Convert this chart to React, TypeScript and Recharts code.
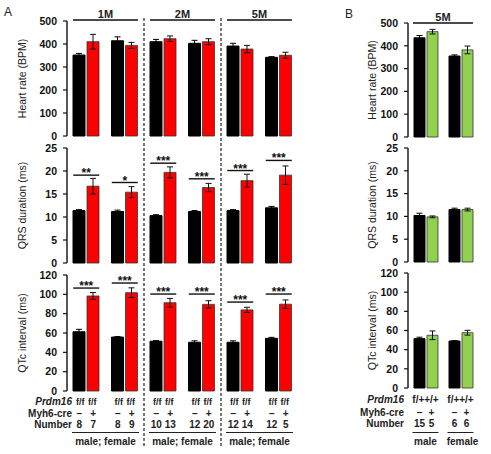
import React from "react";
import { ComposedChart, Bar, Scatter, XAxis, YAxis, ErrorBar } from "recharts";

const FONT = '"Liberation Sans", Arial, sans-serif';

// Panel A: 1M / 2M / 5M, male + female per age
const ageGroupsA = ["1M", "2M", "5M"];
const categoriesA = ["1M male", "1M female", "2M male", "2M female", "5M male", "5M female"];

const hrCtrlA = [352, 414, 410, 403, 391, 342];
const hrCtrlErrA = [7, 17, 10, 13, 12, 3];
const hrCreA = [410, 394, 423, 410, 378, 351];
const hrCreErrA = [32, 13, 12, 13, 16, 13];

const qrsCtrlA = [11.4, 11.2, 10.3, 11.2, 11.4, 12.0];
const qrsCtrlErrA = [0.2, 0.3, 0.2, 0.2, 0.2, 0.3];
const qrsCreA = [16.7, 15.4, 19.7, 16.4, 17.9, 19.1];
const qrsCreErrA = [1.7, 1.2, 1.2, 0.9, 1.4, 2.0];
const qrsSigLevelA = [19.1, 17.5, 21.7, 18.3, 20.1, 22.3];
const qrsStarsA = ["**", "*", "***", "***", "***", "***"];

const qtcCtrlA = [61.3, 55.8, 51.5, 50.4, 50.4, 54.5];
const qtcCtrlErrA = [2.5, 0.6, 0.6, 1.5, 1.5, 1.0];
const qtcCreA = [98.3, 101.7, 91.3, 89.6, 83.9, 89.8];
const qtcCreErrA = [3.5, 5, 4.5, 3.8, 2.7, 4.4];
const qtcSigLevelA = [106.5, 111.7, 100.3, 100.3, 92, 100.3];
const qtcStarsA = ["***", "***", "***", "***", "***", "***"];

const genotypeA = ["f/f", "f/f"];
const numbersA = [[8, 7], [8, 9], [10, 13], [12, 20], [12, 14], [12, 5]];

// Panel B: 5M, f/+ +/+
const categoriesB = ["male", "female"];
const hrCtrlB = [435, 355];
const hrCtrlErrB = [10, 5];
const hrCreB = [462, 382];
const hrCreErrB = [10, 17];
const qrsCtrlB = [10.2, 11.5];
const qrsCtrlErrB = [0.5, 0.3];
const qrsCreB = [9.9, 11.5];
const qrsCreErrB = [0.2, 0.3];
const qtcCtrlB = [51.5, 49];
const qtcCtrlErrB = [1.5, 0.5];
const qtcCreB = [55, 57.7];
const qtcCreErrB = [4.5, 2.5];
const genotypeB = "f/++/+";
const numbersB = [[15, 5], [6, 6]];

const hrTicks = [0, 100, 200, 300, 400, 500];
const qrsTicks = [0, 5, 10, 15, 20, 25];
const qtcTicks = [0, 20, 40, 60, 80, 100, 120];

// plot frame
const A_LEFT = 67;
const A_RIGHT = 298;
const B_LEFT = 408;
const B_RIGHT = 478;
const CAT_A = (A_RIGHT - A_LEFT) / categoriesA.length;
const CAT_B = (B_RIGHT - B_LEFT) / categoriesB.length;

interface PanelProps {
  categories: string[];
  ctrl: number[];
  ctrlErr: number[];
  mut: number[];
  mutErr: number[];
  mutColor: string;
  sigLevel?: number[];
  stars?: string[];
  top: number;
  bottom: number;
  left: number;
  right: number;
  labelX: number;
  ticks: number[];
  label: string;
  barSize: number;
  sigHalf?: number;
}

const Panel = (p: PanelProps) => {
  const pad = 6;
  const axisWidth = p.left - (p.labelX - 5);
  const data = p.categories.map((c, i) => ({
    cat: c,
    ctrl: p.ctrl[i],
    ctrlErr: p.ctrlErr[i],
    mut: p.mut[i],
    mutErr: p.mutErr[i],
    sig: p.sigLevel ? p.sigLevel[i] : undefined,
    stars: p.stars ? p.stars[i] : "",
  }));
  const half = p.sigHalf ?? 13;

  return (
    <div style={{ position: "absolute", left: 0, top: p.top - pad }}>
      <ComposedChart
        width={p.right + pad}
        height={p.bottom - p.top + 2 * pad}
        data={data}
        barSize={p.barSize}
        barGap={2}
        margin={{ top: pad, right: pad, bottom: pad, left: p.left - axisWidth }}
      >
        <XAxis
          dataKey="cat"
          height={0}
          tick={false}
          tickLine={false}
          axisLine={{ stroke: "#111", strokeWidth: 1.4 }}
        />
        <YAxis
          width={axisWidth}
          domain={[p.ticks[0], p.ticks[p.ticks.length - 1]]}
          ticks={p.ticks}
          interval={0}
          tickSize={4}
          tickMargin={6}
          axisLine={{ stroke: "#111", strokeWidth: 1.4 }}
          tickLine={{ stroke: "#111", strokeWidth: 1.2 }}
          tick={{ fill: "#111", fontSize: 10.5, fontWeight: "bold", fontFamily: FONT }}
          label={{
            value: p.label,
            angle: -90,
            position: "insideLeft",
            style: { textAnchor: "middle", fontSize: 10.5, fill: "#222", fontFamily: FONT },
          }}
        />
        <Bar dataKey="ctrl" fill="#000" stroke="#000" isAnimationActive={false}>
          <ErrorBar dataKey="ctrlErr" width={3} stroke="#000" strokeWidth={1} />
        </Bar>
        <Bar dataKey="mut" fill={p.mutColor} stroke="#333" strokeWidth={0.8} isAnimationActive={false}>
          <ErrorBar dataKey="mutErr" width={3} stroke="#111" strokeWidth={1} />
        </Bar>
        {p.sigLevel && (
          <Scatter
            dataKey="sig"
            isAnimationActive={false}
            shape={(s: any) => (
              <g>
                <line x1={s.cx - half} x2={s.cx + half} y1={s.cy} y2={s.cy} stroke="#111" strokeWidth={1.4} />
                <text
                  x={s.cx}
                  y={s.cy + 2}
                  textAnchor="middle"
                  fontSize={12}
                  fontWeight="bold"
                  fontFamily={FONT}
                  fill="#111"
                >
                  {s.payload.stars}
                </text>
              </g>
            )}
          />
        )}
      </ComposedChart>
    </div>
  );
};

const txt = { fontFamily: FONT, fontSize: 10, fontWeight: "bold" as const, fill: "#222" };

const Overlay = () => {
  const rows = [404.5, 416.5, 428];
  const barOffA = 7;
  const barOffB = 6;
  return (
    <svg width={491} height={454} style={{ position: "absolute", left: 0, top: 0 }}>
      <text x={4} y={16} fontFamily={FONT} fontSize={12} fill="#222">A</text>
      <text x={345} y={18} fontFamily={FONT} fontSize={12} fill="#222">B</text>

      {ageGroupsA.map((g, gi) => {
        const x0 = A_LEFT + gi * 2 * CAT_A;
        const x1 = x0 + 2 * CAT_A;
        return (
          <g key={g}>
            <line x1={x0 + 6} x2={x1 - 6} y1={20} y2={20} stroke="#111" strokeWidth={1.5} />
            <text x={(x0 + x1) / 2} y={17.5} textAnchor="middle" {...txt} fontSize={11}>{g}</text>
            <line x1={x0 + 5} x2={x1 - 5} y1={432.5} y2={432.5} stroke="#222" strokeWidth={1} />
            <text x={(x0 + x1) / 2} y={445} textAnchor="middle" {...txt}>male; female</text>
          </g>
        );
      })}
      {[2, 4].map((k) => (
        <line
          key={k}
          x1={A_LEFT + k * CAT_A}
          x2={A_LEFT + k * CAT_A}
          y1={18}
          y2={446}
          stroke="#222"
          strokeWidth={1.2}
          strokeDasharray="3 2"
        />
      ))}

      <text x={72} y={rows[0]} textAnchor="end" {...txt} fontStyle="italic">Prdm16</text>
      <text x={72} y={rows[1]} textAnchor="end" {...txt}>Myh6-cre</text>
      <text x={72} y={rows[2]} textAnchor="end" {...txt}>Number</text>
      {categoriesA.map((c, i) => {
        const cx = A_LEFT + (i + 0.5) * CAT_A;
        return (
          <g key={c}>
            <text x={cx - barOffA + 1} y={rows[0]} textAnchor="middle" {...txt} fontSize={9}>{genotypeA[0]}</text>
            <text x={cx + barOffA - 1} y={rows[0]} textAnchor="middle" {...txt} fontSize={9}>{genotypeA[1]}</text>
            <text x={cx - barOffA} y={rows[1]} textAnchor="middle" {...txt}>–</text>
            <text x={cx + barOffA} y={rows[1]} textAnchor="middle" {...txt}>+</text>
            <text x={cx - barOffA} y={rows[2]} textAnchor="middle" {...txt}>{numbersA[i][0]}</text>
            <text x={cx + barOffA} y={rows[2]} textAnchor="middle" {...txt}>{numbersA[i][1]}</text>
          </g>
        );
      })}

      <line x1={B_LEFT + 5} x2={B_RIGHT - 5} y1={23} y2={23} stroke="#111" strokeWidth={1.5} />
      <text x={(B_LEFT + B_RIGHT) / 2} y={20.5} textAnchor="middle" {...txt} fontSize={11}>5M</text>
      <text x={404} y={rows[0] - 1.5} textAnchor="end" {...txt} fontStyle="italic">Prdm16</text>
      <text x={404} y={rows[1] - 1} textAnchor="end" {...txt}>Myh6-cre</text>
      <text x={404} y={rows[2] - 1} textAnchor="end" {...txt}>Number</text>
      {categoriesB.map((c, i) => {
        const cx = B_LEFT + (i + 0.5) * CAT_B;
        return (
          <g key={c}>
            <text x={cx} y={rows[0] - 1.5} textAnchor="middle" {...txt}>{genotypeB}</text>
            <text x={cx - barOffB} y={rows[1] - 1} textAnchor="middle" {...txt}>–</text>
            <text x={cx + barOffB} y={rows[1] - 1} textAnchor="middle" {...txt}>+</text>
            <text x={cx - barOffB} y={rows[2] - 1} textAnchor="middle" {...txt}>{numbersB[i][0]}</text>
            <text x={cx + barOffB} y={rows[2] - 1} textAnchor="middle" {...txt}>{numbersB[i][1]}</text>
            <line x1={cx - 13} x2={cx + 13} y1={432.5} y2={432.5} stroke="#222" strokeWidth={1} />
            <text x={cx + (i === 1 ? 2 : 0)} y={445} textAnchor="middle" {...txt}>{c}</text>
          </g>
        );
      })}
    </svg>
  );
};

const App = () => {
  const common = { barSize: 12, mutColor: "#FF0000", left: A_LEFT, right: A_RIGHT, labelX: 22, categories: categoriesA };
  const commonB = { barSize: 11, mutColor: "#92D050", left: B_LEFT, right: B_RIGHT, labelX: 372, categories: categoriesB, sigHalf: 12 };
  return (
    <div style={{ position: "absolute", left: 0, top: 0, width: 491, height: 454, background: "#fff" }}>
      <Panel {...common} top={21} bottom={136} ticks={hrTicks} label="Heart rate (BPM)"
        ctrl={hrCtrlA} ctrlErr={hrCtrlErrA} mut={hrCreA} mutErr={hrCreErrA} />
      <Panel {...common} top={148} bottom={263} ticks={qrsTicks} label="QRS duration (ms)"
        ctrl={qrsCtrlA} ctrlErr={qrsCtrlErrA} mut={qrsCreA} mutErr={qrsCreErrA}
        sigLevel={qrsSigLevelA} stars={qrsStarsA} />
      <Panel {...common} top={275} bottom={391} ticks={qtcTicks} label="QTc interval (ms)"
        ctrl={qtcCtrlA} ctrlErr={qtcCtrlErrA} mut={qtcCreA} mutErr={qtcCreErrA}
        sigLevel={qtcSigLevelA} stars={qtcStarsA} />

      <Panel {...commonB} top={23} bottom={137} ticks={hrTicks} label="Heart rate (BPM)"
        ctrl={hrCtrlB} ctrlErr={hrCtrlErrB} mut={hrCreB} mutErr={hrCreErrB} />
      <Panel {...commonB} top={148} bottom={262} ticks={qrsTicks} label="QRS duration (ms)"
        ctrl={qrsCtrlB} ctrlErr={qrsCtrlErrB} mut={qrsCreB} mutErr={qrsCreErrB} />
      <Panel {...commonB} top={273} bottom={388} ticks={qtcTicks} label="QTc interval (ms)"
        ctrl={qtcCtrlB} ctrlErr={qtcCtrlErrB} mut={qtcCreB} mutErr={qtcCreErrB} />

      <Overlay />
    </div>
  );
};

export default App;
